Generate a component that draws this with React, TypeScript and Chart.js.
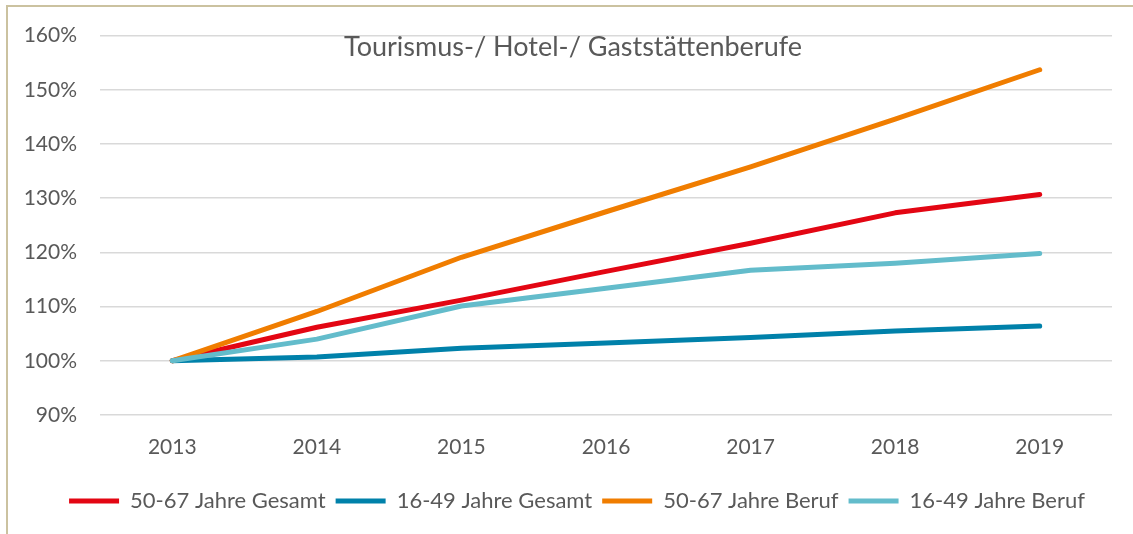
import React, { useEffect, useRef } from "react";
import { Chart, registerables } from "chart.js";

Chart.register(...registerables);

const years = ["2013", "2014", "2015", "2016", "2017", "2018", "2019"];
const gesamt5067 = [100, 106.2, 111.2, 116.5, 121.7, 127.3, 130.7];
const gesamt1649 = [100, 100.7, 102.3, 103.3, 104.3, 105.5, 106.4];
const beruf5067 = [100, 109.1, 119.1, 127.5, 135.8, 144.6, 153.7];
const beruf1649 = [100, 104.0, 110.1, 113.4, 116.7, 118.0, 119.8];
const seriesNames = [
  "50-67 Jahre Gesamt",
  "16-49 Jahre Gesamt",
  "50-67 Jahre Beruf",
  "16-49 Jahre Beruf",
];
const titleText = "Tourismus-/ Hotel-/ Gaststättenberufe";
const yMin = 90;
const yMax = 160;
const yStep = 10;

const FONT = "Lato";
const TEXT = "#595959";

const titlePlugin = {
  id: "innerTitle",
  afterLayout(chart: any) {
    if (chart.legend) {
      chart.legend.left = 42;
    }
  },
  afterDraw(chart: any) {
    const ctx = chart.ctx;
    ctx.save();
    ctx.font = `27px ${FONT}`;
    ctx.fillStyle = TEXT;
    ctx.textAlign = "center";
    ctx.textBaseline = "middle";
    ctx.fillText(titleText, 573, 47);
    ctx.restore();
  },
};

export default function App() {
  const ref = useRef<HTMLCanvasElement | null>(null);
  useEffect(() => {
    if (!ref.current) return;
    const mk = (label: string, data: number[], color: string, order: number) => ({
      label,
      data,
      borderColor: color,
      backgroundColor: color,
      borderWidth: 5,
      pointRadius: 0,
      pointHoverRadius: 0,
      borderCapStyle: "round",
      borderJoinStyle: "round",
      tension: 0,
      fill: false,
      order,
    });
    const chart = new Chart(ref.current, {
      type: "line",
      data: {
        labels: years,
        datasets: [
          mk(seriesNames[0], gesamt5067, "#e30613", 3),
          mk(seriesNames[1], gesamt1649, "#0081aa", 2),
          mk(seriesNames[2], beruf5067, "#f07d00", 1),
          mk(seriesNames[3], beruf1649, "#63bccb", 0),
        ] as any,
      },
      options: {
        animation: false,
        responsive: true,
        maintainAspectRatio: false,
        layout: { padding: { top: 35, right: 21, bottom: 12, left: 0 } },
        scales: {
          x: {
            offset: true,
            grid: { display: false, drawTicks: false },
            border: { display: false },
            ticks: { color: TEXT, font: { family: FONT, size: 21 }, padding: 20 },
            afterFit: (s: any) => {
              s.height = 65;
            },
          },
          y: {
            min: yMin,
            max: yMax,
            grid: { color: "#d9d9d9", lineWidth: 1.5, drawTicks: false },
            border: { display: false },
            ticks: {
              stepSize: yStep,
              color: TEXT,
              font: { family: FONT, size: 21 },
              padding: 23,
              callback: (v: any) => `${v}%`,
            },
            afterFit: (s: any) => {
              s.width = 100;
            },
          },
        },
        plugins: {
          tooltip: { enabled: false },
          title: { display: false },
          legend: {
            position: "bottom",
            labels: {
              usePointStyle: true,
              pointStyle: "line",
              pointStyleWidth: 50,
              color: TEXT,
              font: { family: FONT, size: 22 },
              padding: 10,
              sort: (a: any, b: any) => a.datasetIndex - b.datasetIndex,
            },
          },
        },
      } as any,
      plugins: [titlePlugin],
    });
    return () => chart.destroy();
  }, []);

  return (
    <div
      style={{
        position: "fixed",
        left: 0,
        top: 0,
        width: 1133,
        height: 534,
        background: "#fff",
        overflow: "hidden",
      }}
    >
      <div
        style={{
          position: "absolute",
          left: 6,
          top: 5,
          width: 1200,
          height: 600,
          borderLeft: "2px solid #cbc2a0",
          borderTop: "2px solid #cbc2a0",
        }}
      />
      <div style={{ position: "absolute", left: 0, top: 0, width: 1133, height: 534 }}>
        <canvas ref={ref} />
      </div>
    </div>
  );
}
